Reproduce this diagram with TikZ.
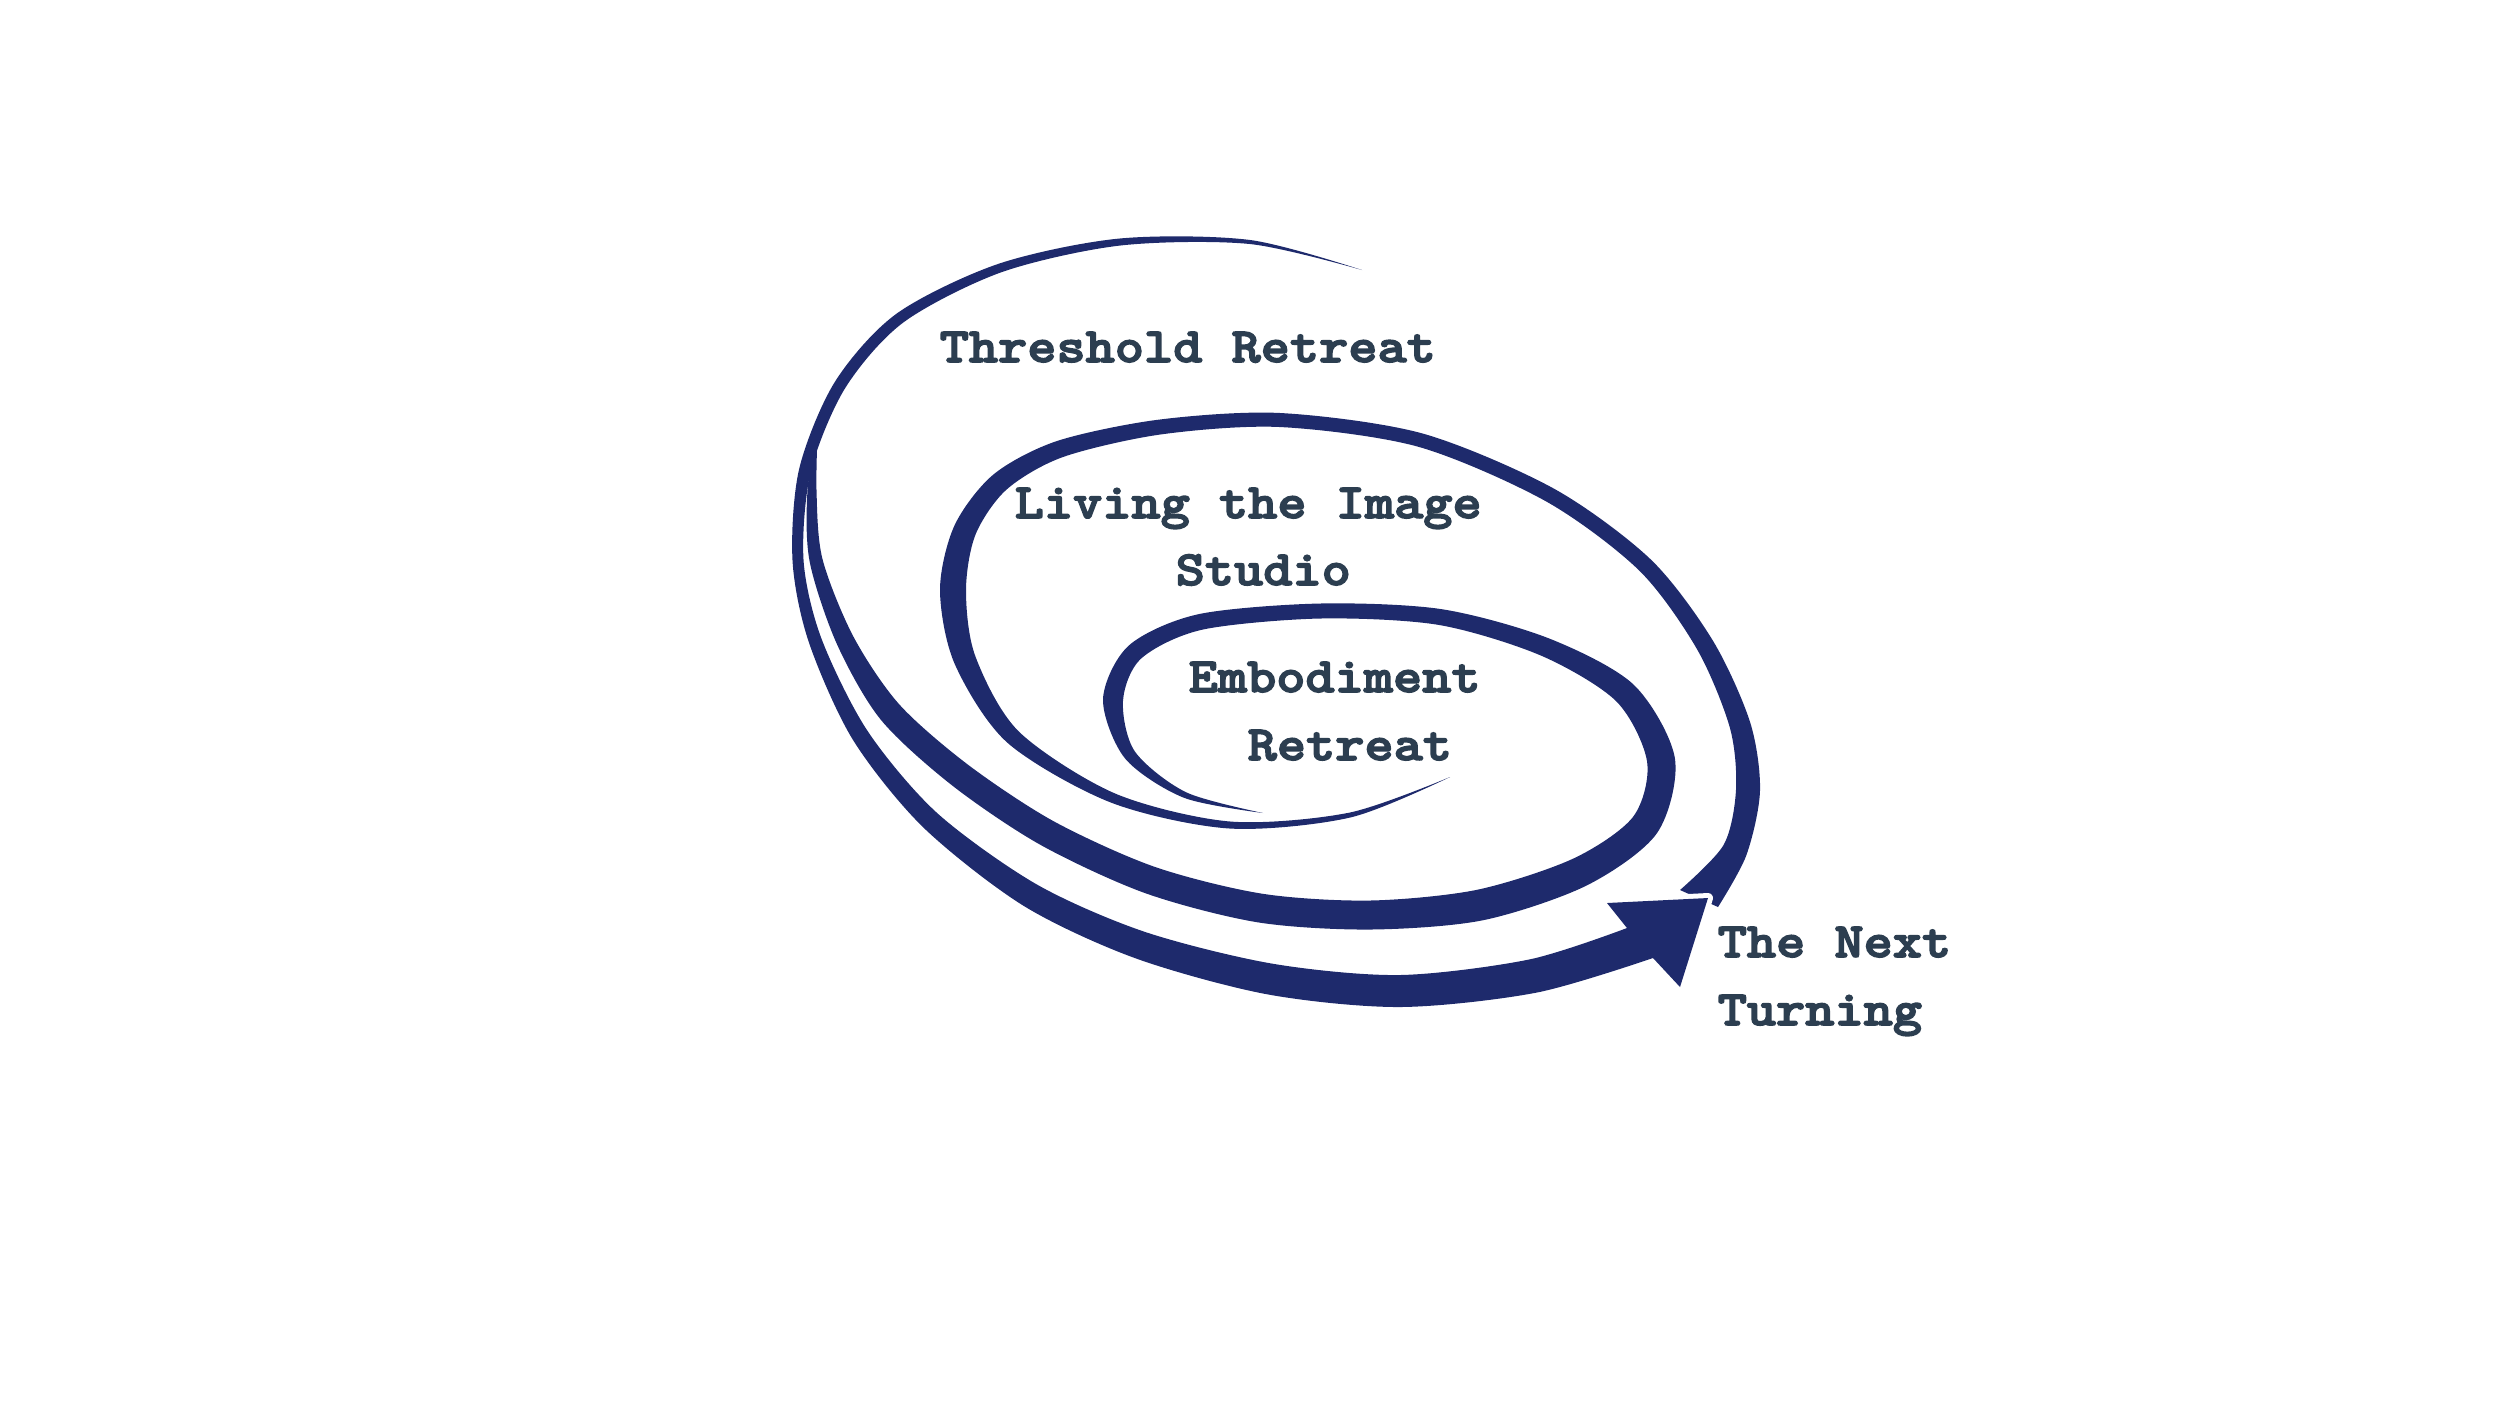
\documentclass[tikz,border=0pt]{standalone}
\usepackage{fontspec}
\newfontfamily\courier{lmmonolt10-bold.otf}[FakeStretch=1.13,FakeBold=3]
\definecolor{spiral}{RGB}{30,42,108}
\definecolor{slate}{RGB}{44,62,80}
\begin{document}
\begin{tikzpicture}[x=0.1mm,y=-0.1mm,
  band/.style={fill=spiral},
  lbl/.style={anchor=base west,inner sep=0pt,text=slate,font=\courier\fontsize{14}{19}\selectfont}]
  \useasboundingbox (0,0) rectangle (2500,1406);

  % inner loop, round the embodiment retreat
  \fill[band] plot[smooth] coordinates {(1263,813) (1183.8,797.7) (1125.1,758.5) (1103,699.2) (1128.7,645.6) (1197.9,614.3) (1319.9,603.5) (1441.3,609.1) (1548.7,638.3) (1633.6,684.6) (1674.9,758.2) (1657,833.1) (1586.8,885.4) (1483.1,920.2) (1370.2,929.5) (1257.7,922.3) (1145.4,893.2) (1040.4,844.8) (952,785.3) (880.8,719.7) (836.8,643.8) (809.6,561.3) (807.5,490) (818,420)}
    -- plot[smooth] coordinates {(818,420) (816.5,490) (822.4,558.7) (853.2,636.2) (899.2,704.3) (968,764.7) (1053.6,821.2) (1154.6,866.8) (1262.3,893.7) (1369.8,900.5) (1476.9,889.8) (1573.2,858.6) (1633,816.9) (1647.1,761.8) (1616.4,701.4) (1541.3,655.7) (1438.7,624.9) (1320.1,618.5) (1202.1,629.7) (1141.3,658.4) (1123,700.8) (1134.9,751.5) (1186.2,792.3) (1263,813)} -- cycle;

  % middle loop, round the studio
  \fill[band] plot[smooth] coordinates {(1450,777) (1350.6,817.4) (1229.7,828.5) (1111.1,802.6) (1007.4,742.7) (954.7,663.9) (940,589.8) (954.5,525.4) (993.4,474.5) (1057,441) (1159,419.6) (1280.3,413) (1421.9,433.3) (1553.7,488.5) (1650.6,559.3) (1712.8,640.5) (1750.1,722.2) (1760,790.5) (1746.4,855.1) (1718,907)}
    -- plot[smooth] coordinates {(1680,890) (1723.6,844.9) (1736,789.5) (1729.9,727.8) (1697.2,649.5) (1639.4,570.7) (1546.3,501.5) (1418.1,446.7) (1279.7,427) (1161,434.4) (1063,457) (1006.6,489.5) (975.5,534.6) (966,590.2) (975.3,656.1) (1018.6,731.3) (1114.9,793.4) (1230.3,821.5) (1349.4,812.6) (1450,777)} -- cycle;

  % white rim round the arrow head
  \coordinate (upper) at (1627,928);
  \coordinate (back) at (1607,903);
  \coordinate (tip) at (1708,898);
  \coordinate (barb) at (1680,987);
  \coordinate (lower) at (1653,958);
  \draw[white,line width=1mm,line join=round] (upper) -- (back) -- (tip) -- (barb) -- (lower);

  % outer loop, threshold retreat, ending in the arrow
  \fill[band] plot[smooth] coordinates {(1362,270) (1250.2,240) (1119.6,238.5) (998.5,263.8) (896.6,313.6) (834.9,381.8) (799.2,468.7) (792.5,560.4) (808.8,642.1) (852.8,739.6) (923.1,827.2) (1023.6,905.8) (1135.3,958.2) (1267.3,994.3) (1400.2,1007) (1536.5,992.6) (1653,958)}
    -- (barb) -- (tip) -- (back) -- (upper)
    -- plot[smooth] coordinates {(1627,928) (1529.5,959.4) (1399.8,975) (1272.7,963.7) (1144.7,931.8) (1036.4,884.2) (936.9,812.8) (867.2,730.4) (821.2,637.9) (803.5,559.6) (810.8,471.3) (845.1,388.2) (903.4,322.4) (1001.5,272.2) (1120.4,245.5) (1249.8,244) (1362,270)} -- cycle;

  \node[lbl] (threshold) at (939,362) {Threshold Retreat};
  \node[lbl] (living) at (1014,518) {Living the Image};
  \node[lbl] (studio) at (1175,585) {Studio};
  \node[lbl] (embodiment) at (1188,692) {Embodiment};
  \node[lbl] (retreat) at (1247,760) {Retreat};
  \node[lbl] (next) at (1717,957) {The Next};
  \node[lbl] (turning) at (1717,1025) {Turning};
\end{tikzpicture}
\end{document}
